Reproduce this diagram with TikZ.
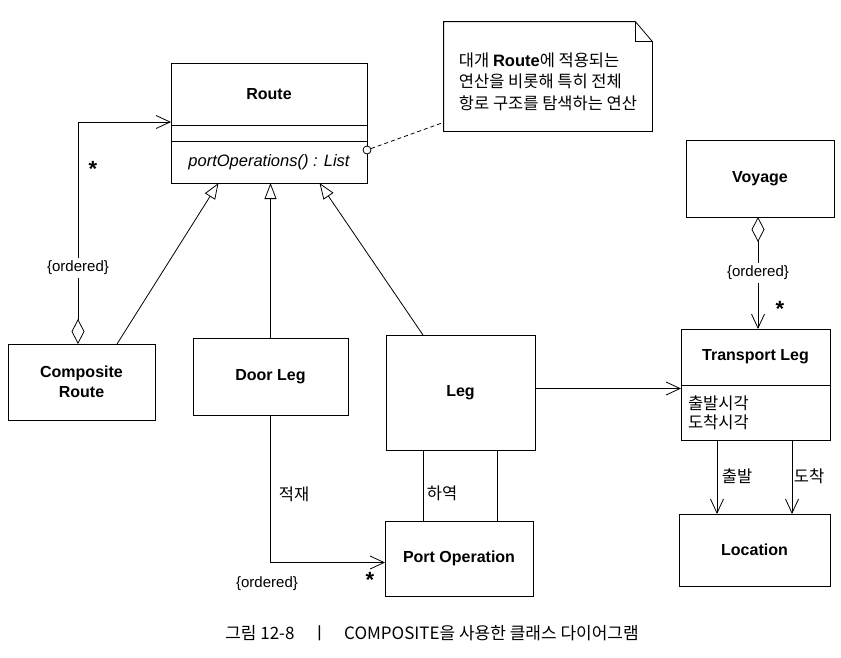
\documentclass[tikz,border=0pt]{standalone}
\usepackage{fontspec}
\setmainfont{Liberation Sans}
\newfontfamily\kr{Noto Sans CJK KR}
\usetikzlibrary{positioning,arrows.meta}
\tikzstyle{classbox} = [rectangle, draw=black, align=center, inner sep=0pt, outer sep=0pt, font=\bfseries\fontsize{16}{20}\selectfont]
\tikzstyle{genarrow} = [-{Triangle[open,length=16pt,width=12pt]}]
\tikzstyle{assoc} = [-{Straight Barb[length=14pt,width=13pt]}]
\tikzstyle{aggr} = [{Diamond[open,length=25pt,width=13pt]}-{Straight Barb[length=14pt,width=13pt]}]
\tikzstyle{lbl} = [font=\fontsize{15}{18}\selectfont, inner xsep=1pt, inner ysep=3pt]
\tikzstyle{krlbl} = [font=\kr\fontsize{16.5}{19}\selectfont, inner sep=1pt]
\tikzstyle{mult} = [font=\bfseries\fontsize{22}{22}\selectfont, inner sep=0pt, anchor=north]

\begin{document}
\begin{tikzpicture}[x=1pt, y=-1pt, line width=0.8pt]
\useasboundingbox (0,0) rectangle (841,657);

% Route with its three compartments
\node (routeTitle) [classbox, minimum width=196pt, minimum height=62pt] at (269,94) {Route};
\node (routeAttr) [classbox, minimum width=196pt, minimum height=16pt, below=0pt of routeTitle] {};
\node (routeOps) [classbox, minimum width=196pt, minimum height=42pt, below=0pt of routeAttr, font=\itshape\fontsize{16.5}{20}\selectfont] {portOperations() : List};

% note
\node (note) [minimum width=208pt, minimum height=109pt, inner sep=0pt] at (548,76.5) {};
\node (noteText) [align=left, inner sep=0pt, font=\kr\fontsize{16.5}{21.5}\selectfont] at ([yshift=-5pt]note.center) {대개 {\rmfamily\bfseries Route}에 적용되는\\연산을 비롯해 특히 전체\\항로 구조를 탐색하는 연산};
\draw (note.south west) -- (note.north west) -- ([xshift=-17pt]note.north east) -- ([yshift=-20pt]note.north east) -- (note.south east) -- cycle;
\draw ([xshift=-17pt]note.north east) |- ([yshift=-20pt]note.north east);
\node (hook) [circle, draw, fill=white, inner sep=0pt, minimum size=8pt] at ([yshift=12pt]routeOps.east) {};
\draw[dash pattern=on 4pt off 3pt] (hook) -- ([yshift=9pt]note.south west);

% classes
\node (comp) [classbox, minimum width=147pt, minimum height=76pt] at (81.5,382) {Composite\\Route};
\node (door) [classbox, minimum width=155pt, minimum height=77pt] at (270.5,376.5) {Door Leg};
\node (leg) [classbox, minimum width=149pt, minimum height=115pt] at (460.5,392.5) {Leg};
\node (port) [classbox, minimum width=148pt, minimum height=75pt] at (459,558.5) {Port Operation};
\node (voyage) [classbox, minimum width=148pt, minimum height=77pt] at (760,178.5) {Voyage};
\node (tlTitle) [classbox, minimum width=149pt, minimum height=56pt] at (755.5,357) {Transport Leg};
\node (tlAttr) [classbox, below=0pt of tlTitle, minimum width=149pt, minimum height=55pt, text width=135pt, inner xsep=7pt, align=left, font=\kr\fontsize{16.5}{19}\selectfont] {출발시각\\도착시각};
\node (loc) [classbox, minimum width=151pt, minimum height=72pt] at (754.5,550) {Location};

% generalizations
\draw[genarrow] ([xshift=35.5pt]comp.north) -- ([xshift=-50.5pt]routeOps.south);
\draw[genarrow] (door.north) -- (door.north |- routeOps.south);
\draw[genarrow] ([xshift=-37.5pt]leg.north) -- ([xshift=50.5pt]routeOps.south);

% associations
\draw[aggr] ([xshift=-3.5pt]comp.north) |- ([yshift=3pt]routeTitle.south west);
\draw[assoc] ([yshift=4pt]leg.east) -- ([yshift=4pt]leg.east -| tlAttr.west);
\draw[aggr] ([xshift=-2pt]voyage.south) -- ([xshift=-2pt]voyage.south |- tlTitle.north);
\draw[assoc] (door.south) |- ([yshift=-4pt]port.west);
\draw ([xshift=-37.5pt]leg.south) -- ([xshift=-37.5pt]leg.south |- port.north);
\draw ([xshift=36.5pt]leg.south) -- ([xshift=36.5pt]leg.south |- port.north);
\draw[assoc] ([xshift=-38.5pt]tlAttr.south) -- ([xshift=-38.5pt]tlAttr.south |- loc.north);
\draw[assoc] ([xshift=36.5pt]tlAttr.south) -- ([xshift=36.5pt]tlAttr.south |- loc.north);

% labels
\node (ordCR) [lbl, fill=white] at (78,268) {\{ordered\}};
\node (starCR) [mult] at (93,161) {*};
\node (ordVT) [lbl, fill=white] at (758,273) {\{ordered\}};
\node (starVT) [mult] at (780,301) {*};
\node (ordPO) [lbl] at (267,584) {\{ordered\}};
\node (starPO) [mult] at (370,572) {*};
\node (loadLbl) [krlbl] at (294,494) {적재};
\node (unloadLbl) [krlbl] at (442,493) {하역};
\node (depLbl) [krlbl] at (737,476) {출발};
\node (arrLbl) [krlbl] at (809,476) {도착};

\node (caption) [font=\kr\fontsize{17}{20}\selectfont] at (432,633) {그림 12-8\quad ㅣ\quad COMPOSITE을 사용한 클래스 다이어그램};
\end{tikzpicture}
\end{document}
